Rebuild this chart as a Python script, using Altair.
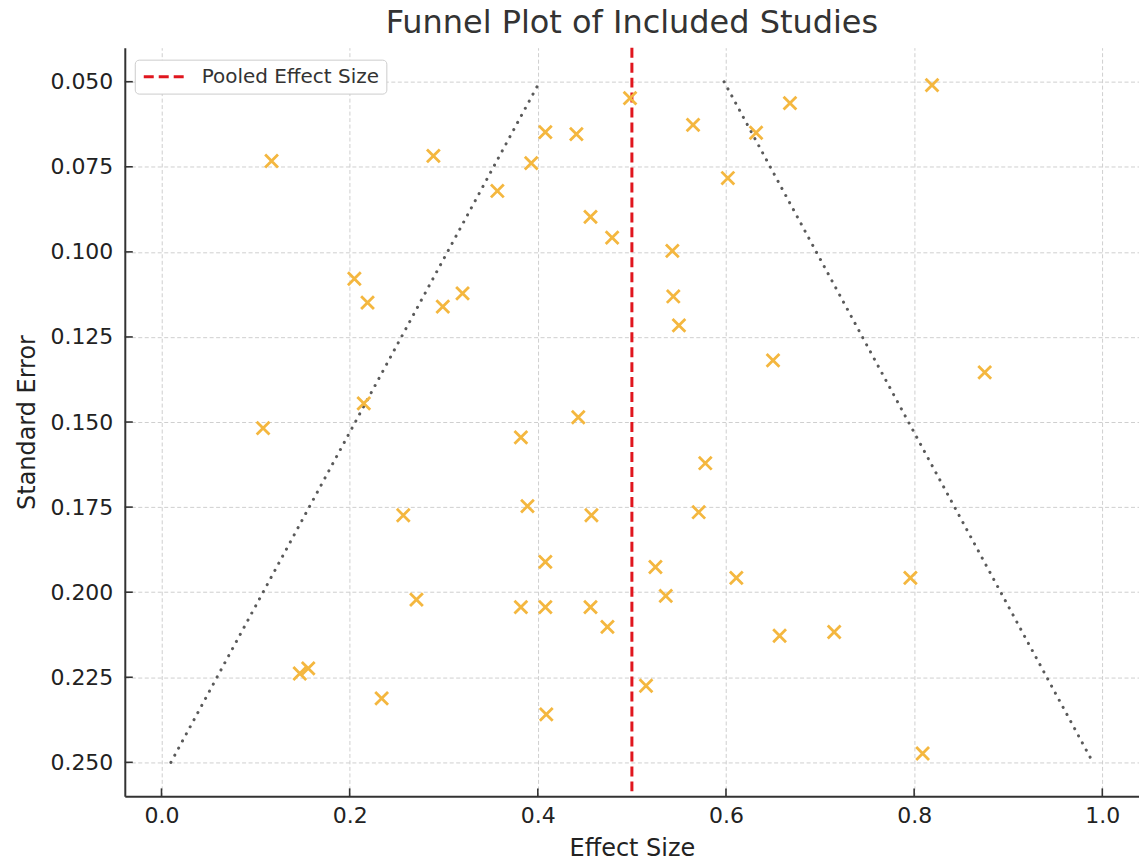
import altair as alt
import pandas as pd

# Study data
effect_size = [0.117, 0.289, 0.357, 0.393, 0.408, 0.441, 0.498, 0.565, 0.668, 0.632,
               0.819, 0.602, 0.456, 0.479, 0.543, 0.205, 0.219, 0.320, 0.299, 0.544,
               0.550, 0.650, 0.875, 0.215, 0.108, 0.443, 0.382, 0.578, 0.389, 0.257,
               0.457, 0.571, 0.408, 0.525, 0.611, 0.796, 0.271, 0.536, 0.382, 0.408,
               0.456, 0.474, 0.657, 0.715, 0.147, 0.156, 0.234, 0.515, 0.409, 0.809]
std_error = [0.0733, 0.0718, 0.0821, 0.0739, 0.0648, 0.0654, 0.0548, 0.0627, 0.0563, 0.0650,
             0.0510, 0.0783, 0.0897, 0.0958, 0.0997, 0.1079, 0.1149, 0.1122, 0.1161, 0.1131,
             0.1216, 0.1319, 0.1354, 0.1445, 0.1518, 0.1486, 0.1545, 0.1621, 0.1747, 0.1774,
             0.1774, 0.1765, 0.1911, 0.1926, 0.1958, 0.1958, 0.2022, 0.2011, 0.2044, 0.2044,
             0.2044, 0.2102, 0.2128, 0.2117, 0.2239, 0.2224, 0.2312, 0.2275, 0.2359, 0.2474]

pooled_effect = [0.5]
pooled_label = ["Pooled Effect Size"]

funnel_se = [0.05, 0.25, 0.05, 0.25]
funnel_x = [0.402, 0.010, 0.598, 0.990]
funnel_side = ["lower", "lower", "upper", "upper"]

x_ticks = [0.0, 0.2, 0.4, 0.6, 0.8, 1.0]
y_ticks = [0.050, 0.075, 0.100, 0.125, 0.150, 0.175, 0.200, 0.225, 0.250]

studies = pd.DataFrame({"effect": effect_size, "se": std_error})
funnel = pd.DataFrame({"x": funnel_x, "se": funnel_se, "side": funnel_side})
pooled = pd.DataFrame({"x": pooled_effect, "label": pooled_label})
xt = pd.DataFrame({"v": x_ticks})
yt = pd.DataFrame({"v": y_ticks})

FONT = "DejaVu Sans"
xscale = alt.Scale(domain=[-0.039, 1.039], nice=False, zero=False)
yscale = alt.Scale(domain=[0.04, 0.26], nice=False, zero=False, reverse=True)

x_axis = alt.Axis(values=x_ticks, format=".1f", title="Effect Size", grid=True,
                  tickSize=0, labelPadding=9, titlePadding=10)
y_axis = alt.Axis(values=y_ticks, format=".3f", title="Standard Error", grid=True,
                  tickSize=0, labelPadding=12, titlePadding=10)

points = alt.Chart(studies).mark_point(
    shape="M-1,-1L1,1M-1,1L1,-1", filled=False, strokeWidth=2.8, size=165,
    color="#F4B73F", opacity=1
).encode(
    x=alt.X("effect:Q", scale=xscale, axis=x_axis),
    y=alt.Y("se:Q", scale=yscale, axis=y_axis),
)

funnel_lines = alt.Chart(funnel).mark_line(
    color="#5a5a5a", strokeWidth=3, strokeDash=[0.1, 8], strokeCap="round"
).encode(
    x=alt.X("x:Q", scale=xscale),
    y=alt.Y("se:Q", scale=yscale),
    detail="side:N",
)

pooled_rule = alt.Chart(pooled).mark_rule(strokeWidth=3, strokeDash=[10, 5]).encode(
    x=alt.X("x:Q", scale=xscale),
    color=alt.Color("label:N", scale=alt.Scale(domain=pooled_label, range=["#e0161e"]),
                    legend=alt.Legend(title=None, orient="none", legendX=10, legendY=12,
                                      symbolType="M-1,0H4.25", symbolSize=256,
                                      symbolStrokeWidth=3, symbolDash=[10, 5],
                                      labelFontSize=20, labelFont=FONT, labelColor="#333333",
                                      labelOffset=40, labelLimit=500, padding=7, cornerRadius=4,
                                      strokeColor="#cccccc", fillColor="white")),
)

xticks_in = alt.Chart(xt).mark_rule(color="#333333", strokeWidth=1.6).encode(
    x=alt.X("v:Q", scale=xscale),
    y=alt.value(750), y2=alt.value(742),
)
yticks_in = alt.Chart(yt).mark_rule(color="#333333", strokeWidth=1.6).encode(
    y=alt.Y("v:Q", scale=yscale),
    x=alt.value(0), x2=alt.value(8),
)

chart = alt.layer(funnel_lines, pooled_rule, points, xticks_in, yticks_in).properties(
    width=1016, height=750,
    title=alt.TitleParams("Funnel Plot of Included Studies", fontSize=32, font=FONT,
                          fontWeight="normal", color="#333333", anchor="middle",
                          offset=6),
    autosize=alt.AutoSizeParams(type="none"),
    padding={"left": 117, "top": 39, "right": 0, "bottom": 70},
).configure_view(stroke=None).configure_axis(
    labelFont=FONT, titleFont=FONT, labelFontSize=22, titleFontSize=24,
    labelColor="#222222", titleColor="#222222", titleFontWeight="normal",
    domainColor="#333333", domainWidth=2,
    gridColor="#cfcfcf", gridDash=[4, 2.5], gridWidth=1,
)

chart.save("out.html", embed_options={"renderer": "svg", "actions": False})
